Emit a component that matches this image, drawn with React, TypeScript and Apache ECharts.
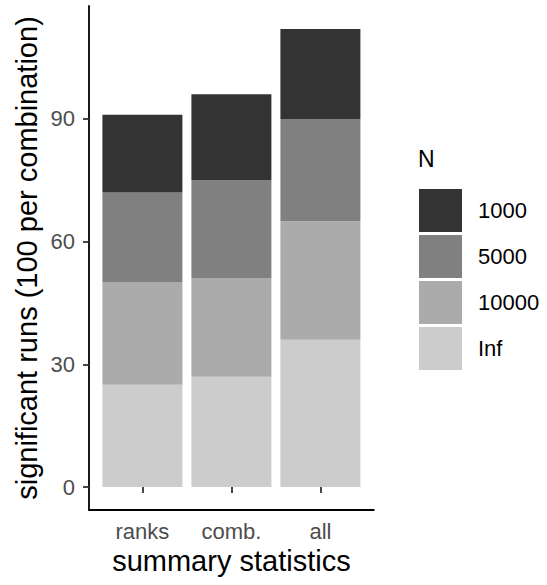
import React, { useEffect, useRef } from "react";
import * as echarts from "echarts";

const categories = ["ranks", "comb.", "all"];
const nLevels = ["Inf", "10000", "5000", "1000"];
const legendOrder = ["1000", "5000", "10000", "Inf"];
const valuesInf = [25, 27, 36];
const values10000 = [25, 24, 29];
const values5000 = [22, 24, 25];
const values1000 = [19, 21, 22];
const yTicks = [0, 30, 60, 90];
const fills: Record<string, string> = { Inf: "#CCCCCC", "10000": "#ABABAB", "5000": "#808080", "1000": "#333333" };

const FONT = "Liberation Sans, Arial, sans-serif";

export default function App() {
  const ref = useRef<HTMLDivElement>(null);
  useEffect(() => {
    if (!ref.current) return;
    const chart = echarts.init(ref.current, undefined, { renderer: "svg" });
    const seriesVals: Record<string, number[]> = {
      Inf: valuesInf,
      "10000": values10000,
      "5000": values5000,
      "1000": values1000,
    };
    const maxTotal = Math.max(
      ...categories.map((_, i) => valuesInf[i] + values10000[i] + values5000[i] + values1000[i])
    );
    const pad = maxTotal * 0.05;
    const band = 89;
    const plotLeft = 89;
    const plotTop = 6;
    const plotH = 504;
    const expand = 0.6 * band - band / 2;
    chart.setOption({
      animation: false,
      textStyle: { fontFamily: FONT },
      grid: [
        { left: plotLeft + expand, top: plotTop, width: band * categories.length, height: plotH, containLabel: false },
        { left: plotLeft, top: plotTop, width: band * categories.length + 2 * expand, height: plotH, containLabel: false },
      ],
      xAxis: [
        {
          type: "category",
          gridIndex: 0,
          data: categories,
          boundaryGap: true,
          axisLine: { show: false },
          axisTick: { show: true, alignWithLabel: true, length: 6, lineStyle: { color: "#333", width: 1.8 } },
          axisLabel: { color: "#4D4D4D", fontSize: 22, margin: 10, fontFamily: FONT },
          splitLine: { show: false },
          name: "summary statistics",
          nameLocation: "middle",
          nameGap: 33,
          nameTextStyle: { fontSize: 29, color: "#000", fontFamily: FONT },
        },
        {
          type: "value",
          gridIndex: 1,
          min: 0,
          max: 1,
          axisLine: { show: true, onZero: false, lineStyle: { color: "#000", width: 1.8 } },
          axisTick: { show: false },
          axisLabel: { show: false },
          splitLine: { show: false },
        },
      ],
      yAxis: [
        {
          type: "value",
          gridIndex: 0,
          min: -pad,
          max: maxTotal + pad,
          offset: expand,
          splitLine: { show: false },
          axisLine: { show: true, onZero: false, lineStyle: { color: "#000", width: 1.8 } },
          axisTick: { show: true, customValues: yTicks, length: 6, lineStyle: { color: "#333", width: 1.8 } },
          axisLabel: {
            customValues: yTicks,
            color: "#4D4D4D",
            fontSize: 22,
            margin: 14,
            fontFamily: FONT,
          },
          name: "significant runs (100 per combination)",
          nameLocation: "middle",
          nameGap: 48,
          nameTextStyle: { fontSize: 29, color: "#000", fontFamily: FONT },
        },
        { type: "value", gridIndex: 1, show: false, min: 0, max: 1 },
      ],
      legend: {
        data: legendOrder,
        orient: "vertical",
        left: 419,
        top: 189,
        padding: 0,
        itemWidth: 43,
        itemHeight: 43,
        itemGap: 3,
        icon: "rect",
        textStyle: { fontSize: 22, color: "#000", fontFamily: FONT, padding: [0, 0, 0, 11] },
      },
      graphic: [
        {
          type: "text",
          left: 418,
          top: 147,
          style: { text: "N", fontSize: 23, fill: "#000", fontFamily: FONT },
        },
      ],
      series: nLevels.map((lvl) => ({
        name: lvl,
        type: "bar",
        stack: "total",
        xAxisIndex: 0,
        yAxisIndex: 0,
        barWidth: 80,
        itemStyle: { color: fills[lvl] },
        emphasis: { disabled: true },
        data: seriesVals[lvl],
      })),
    });
    return () => chart.dispose();
  }, []);
  return (
    <div
      ref={ref}
      style={{ position: "absolute", left: 0, top: 0, width: 547, height: 585 }}
    />
  );
}
